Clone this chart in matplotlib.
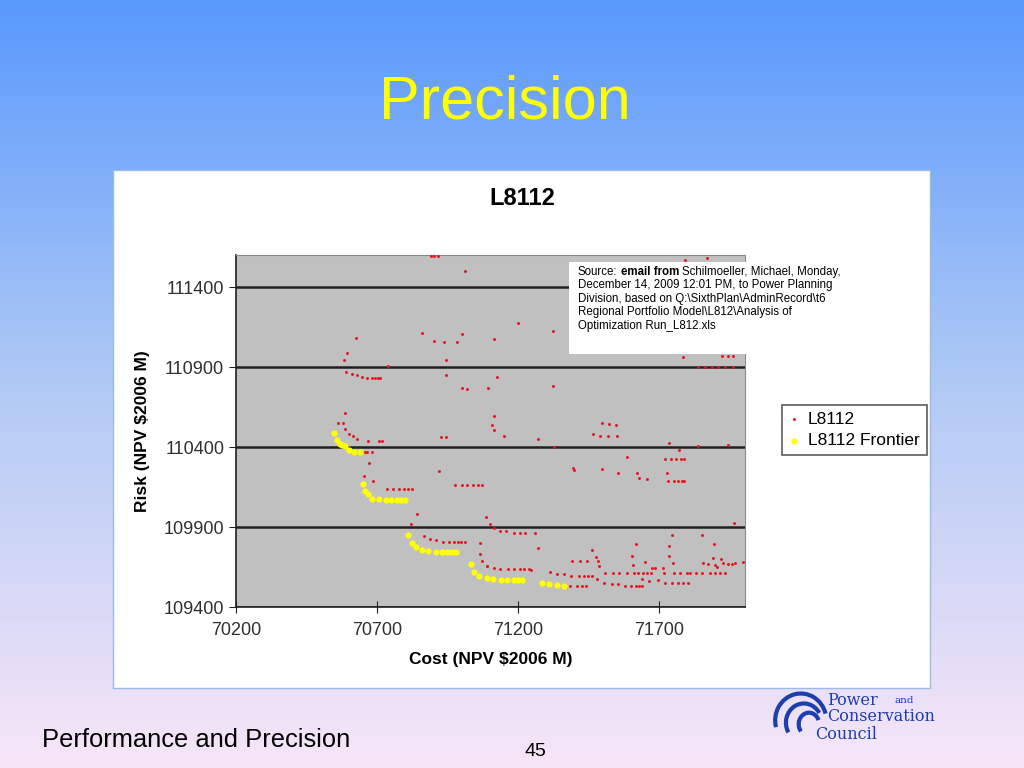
import numpy as np
import matplotlib
matplotlib.use("Agg")
import matplotlib.pyplot as plt
from matplotlib.patches import Rectangle, Arc
from matplotlib.colors import LinearSegmentedColormap

plt.rcParams['font.family'] = ['Liberation Sans', 'DejaVu Sans']

# L8112 portfolio cloud (cost, risk)
l8112 = [
    (70891, 111595), (70902, 111595), (70916, 111595), (71012, 111502),
    (70860, 111114), (70626, 111079), (70903, 111061), (70939, 111054), (70985, 111054),
    (71001, 111108), (71116, 111073), (70595, 110989), (70583, 110944), (70946, 110944),
    (70739, 110906), (70591, 110867), (70610, 110858), (70630, 110852), (70647, 110837),
    (70665, 110833), (70681, 110833), (70693, 110833), (70702, 110833), (70710, 110833),
    (70946, 110852), (71001, 110771), (71020, 110764), (71093, 110766),
    (70587, 110611), (70561, 110552), (70579, 110552), (71114, 110594), (71107, 110539),
    (71199, 111173), (71325, 111127), (71124, 110839), (71325, 110783),
    (71497, 110552), (71524, 110546), (71549, 110539),
    (71792, 111569), (71869, 111579),
    (71786, 110964), (71922, 110969), (71946, 110969), (71963, 110969),
    (71838, 110902), (71863, 110902), (71887, 110902), (71909, 110902), (71934, 110902), (71963, 110902),
    (70587, 110511), (70600, 110483), (70615, 110469), (70630, 110450), (70669, 110439),
    (70708, 110439), (70717, 110439), (70657, 110371), (70666, 110371), (70681, 110371),
    (70673, 110298), (70654, 110219), (70685, 110188),
    (70737, 110136), (70756, 110136), (70778, 110136), (70796, 110136), (70811, 110136), (70825, 110136),
    (70926, 110461), (70944, 110461), (70920, 110252),
    (70977, 110164), (71000, 110164), (71020, 110164), (71040, 110164), (71057, 110164), (71071, 110164),
    (70841, 109979), (70819, 109917),
    (70868, 109842), (70888, 109827), (70910, 109819), (70934, 109808), (70956, 109808),
    (70972, 109808), (70986, 109808), (70998, 109808), (71012, 109808), (71064, 109802),
    (71085, 109964), (71101, 109917), (71065, 109731), (71073, 109689), (71090, 109658),
    (71116, 110506), (71149, 110471), (71270, 110448), (71329, 110402),
    (71466, 110481), (71492, 110471), (71518, 110471), (71552, 110471),
    (71737, 110427), (71839, 110408), (71946, 110413), (71770, 110383), (71588, 110336),
    (71721, 110323), (71741, 110323), (71761, 110323), (71778, 110323), (71790, 110323),
    (71395, 110267), (71400, 110256), (71498, 110263),
    (71556, 110236), (71622, 110239), (71629, 110206), (71656, 110198), (71727, 110236),
    (71732, 110188), (71752, 110188), (71768, 110188), (71780, 110188), (71788, 110188),
    (71114, 109892), (71135, 109875), (71158, 109875), (71185, 109863), (71206, 109863),
    (71225, 109863), (71259, 109863), (71966, 109925), (71270, 109767),
    (71461, 109758), (71475, 109714), (71485, 109688), (71488, 109658),
    (71393, 109689), (71420, 109689), (71445, 109689),
    (71618, 109794), (71603, 109721), (71607, 109663), (71650, 109683),
    (71746, 109850), (71734, 109781), (71734, 109721), (71751, 109677),
    (71851, 109850), (71895, 109792), (71893, 109704),
    (71856, 109677), (71875, 109669), (71899, 109663), (71907, 109648), (71920, 109698),
    (71928, 109673), (71946, 109669), (71960, 109669), (71969, 109673), (71997, 109683),
    (71091, 109656), (71114, 109646), (71136, 109638), (71165, 109636), (71187, 109636),
    (71206, 109636), (71222, 109636), (71238, 109636), (71245, 109631),
    (71312, 109621), (71339, 109608), (71363, 109604),
    (71389, 109596), (71415, 109596), (71434, 109596), (71449, 109596), (71463, 109596),
    (71507, 109613), (71536, 109613), (71559, 109613), (71585, 109613), (71611, 109613),
    (71627, 109613), (71644, 109613), (71658, 109613), (71671, 109613),
    (71674, 109642), (71686, 109642),
    (71479, 109573), (71505, 109548), (71532, 109542), (71556, 109542), (71579, 109533),
    (71600, 109533), (71617, 109533), (71629, 109533), (71639, 109533),
    (71385, 109533), (71408, 109533), (71426, 109533), (71441, 109533),
    (71639, 109577), (71666, 109563), (71695, 109567), (71722, 109552), (71747, 109552),
    (71768, 109552), (71786, 109552), (71804, 109552),
    (71719, 109614), (71752, 109614), (71774, 109614), (71798, 109614), (71810, 109614),
    (71830, 109614), (71854, 109614), (71880, 109614), (71899, 109614), (71916, 109614),
    (71934, 109614), (71715, 109646),
]

# efficient frontier
frontier_cost = [70549, 70558, 70568, 70577, 70587, 70602, 70620, 70640,
                 70651, 70656, 70668, 70683, 70707, 70731, 70749, 70770, 70785, 70799,
                 70811, 70824, 70839, 70860, 70882, 70909, 70929, 70949, 70965, 70981,
                 71033, 71045, 71061, 71089, 71110, 71139, 71161, 71187, 71201, 71215,
                 71286, 71311, 71339, 71363]
frontier_risk = [110488, 110446, 110419, 110411, 110404, 110383, 110371, 110371,
                 110167, 110127, 110104, 110077, 110075, 110069, 110069, 110069, 110069, 110069,
                 109848, 109802, 109775, 109758, 109752, 109746, 109746, 109746, 109746, 109746,
                 109669, 109621, 109594, 109579, 109575, 109567, 109567, 109567, 109567, 109567,
                 109552, 109546, 109539, 109533]

x_ticks = [70200, 70700, 71200, 71700]
y_ticks = [109400, 109900, 110400, 110900, 111400]

fig = plt.figure(figsize=(10.24, 7.68), dpi=100)

# slide background
bg = fig.add_axes([0, 0, 1, 1], zorder=-10)
cmap = LinearSegmentedColormap.from_list(
    "slide", [(0.0, (0.35, 0.60, 0.99)), (0.5, (0.69, 0.79, 0.96)), (1.0, (0.97, 0.90, 0.97))])
grad = np.linspace(0, 1, 256).reshape(-1, 1)
bg.imshow(grad, aspect='auto', cmap=cmap, extent=[0, 1, 0, 1], origin='upper')
bg.set_xlim(0, 1)
bg.set_ylim(0, 1)
bg.axis('off')
bg.add_patch(Rectangle((0.1104, 0.1042), 0.798, 0.6745, transform=bg.transAxes,
                       facecolor='white', edgecolor='#9bbbe6', lw=1))

fig.text(0.493, 0.866, "Precision", color='#ffff00', fontsize=44, ha='center', va='center')
fig.text(0.5098, 0.742, "L8112", fontsize=17, fontweight='bold', ha='center', va='center')

ax = fig.add_axes([0.2305, 0.2096, 0.497, 0.4583])
ax.set_facecolor('#c0c0c0')
lc = [p[0] for p in l8112]
lr = [p[1] for p in l8112]
red = ax.scatter(lc, lr, s=4.5, color='#e8141c', marker='o', linewidths=0, zorder=3)
yel = ax.scatter(frontier_cost, frontier_risk, s=20, color='#ffff00', linewidths=0, zorder=4)
ax.set_xlim(70200, 72005)
ax.set_ylim(109400, 111600)
ax.set_xticks(x_ticks)
ax.set_yticks(y_ticks)
ax.yaxis.grid(True, color='#202020', lw=1.8)
ax.set_axisbelow(True)
for s in ['top', 'right']:
    ax.spines[s].set_color('#8a8a8a')
for s in ['left', 'bottom']:
    ax.spines[s].set_color('#202020')
    ax.spines[s].set_linewidth(1.2)
ax.tick_params(axis='y', direction='out', length=5, labelsize=13, labelcolor='#303030', color='#202020')
ax.tick_params(axis='x', direction='inout', length=8, labelsize=13, labelcolor='#303030', color='#202020', pad=7)
ax.set_xlabel("Cost (NPV $2006 M)", fontsize=12.5, fontweight='bold', labelpad=9)
ax.set_ylabel("Risk (NPV $2006 M)", fontsize=12.5, fontweight='bold', labelpad=10)

leg = fig.legend([red, yel], ["L8112", "L8112 Frontier"], loc='center left',
                 bbox_to_anchor=(0.7637, 0.44), fontsize=12.5, frameon=True, fancybox=False,
                 edgecolor='#333333', handlelength=0.6, handletextpad=0.5, borderpad=0.4,
                 labelspacing=0.35, markerscale=1.0, borderaxespad=0)
leg.get_frame().set_linewidth(1.2)

# source note box
src = fig.add_axes([0.5557, 0.5391, 0.2725, 0.1198], zorder=5)
src.set_facecolor('white')
src.set_xticks([])
src.set_yticks([])
for s in src.spines.values():
    s.set_visible(False)
fs = 8.3
t1 = src.text(0.032, 0.83, "Source:", fontsize=fs, transform=src.transAxes, va='bottom')
t2 = src.annotate("email from", xy=(1, 0), xycoords=t1, xytext=(2.3, 0),
                  textcoords='offset points', va='bottom', fontsize=fs, fontweight='bold')
src.annotate("Schilmoeller, Michael, Monday,", xy=(1, 0), xycoords=t2, xytext=(2.3, 0),
             textcoords='offset points', va='bottom', fontsize=fs)
for i, line in enumerate(["December 14, 2009 12:01 PM, to Power Planning",
                          "Division, based on Q:\\SixthPlan\\AdminRecord\\t6",
                          "Regional Portfolio Model\\L812\\Analysis of",
                          "Optimization Run_L812.xls"]):
    src.text(0.032, 0.83 - 0.148 * (i + 1), line, fontsize=fs, transform=src.transAxes, va='bottom')

# footer
fig.text(0.041, 0.036, "Performance and Precision", fontsize=18.4, va='center')
fig.text(0.523, 0.022, "45", fontsize=14, va='center', ha='center')

# council logo
blue = '#1c3fb0'
fig.text(0.808, 0.0885, "Power", family='DejaVu Serif', fontsize=11.5, color=blue, va='center')
fig.text(0.874, 0.0875, "and", family='DejaVu Serif', fontsize=7.5, color=blue, va='center')
fig.text(0.808, 0.0665, "Conservation", family='DejaVu Serif', fontsize=11.5, color=blue, va='center')
fig.text(0.796, 0.044, "Council", family='DejaVu Serif', fontsize=11.5, color=blue, va='center')
for cx, cy, w, h, a1, a2 in [(0.782, 0.062, 0.05, 0.07, 20, 200), (0.785, 0.059, 0.035, 0.05, 40, 220),
                             (0.790, 0.057, 0.02, 0.03, 30, 230)]:
    bg.add_patch(Arc((cx, cy), w, h, theta1=a1, theta2=a2, color=blue, lw=3, transform=bg.transAxes))

fig.savefig("out.png", dpi=100)
